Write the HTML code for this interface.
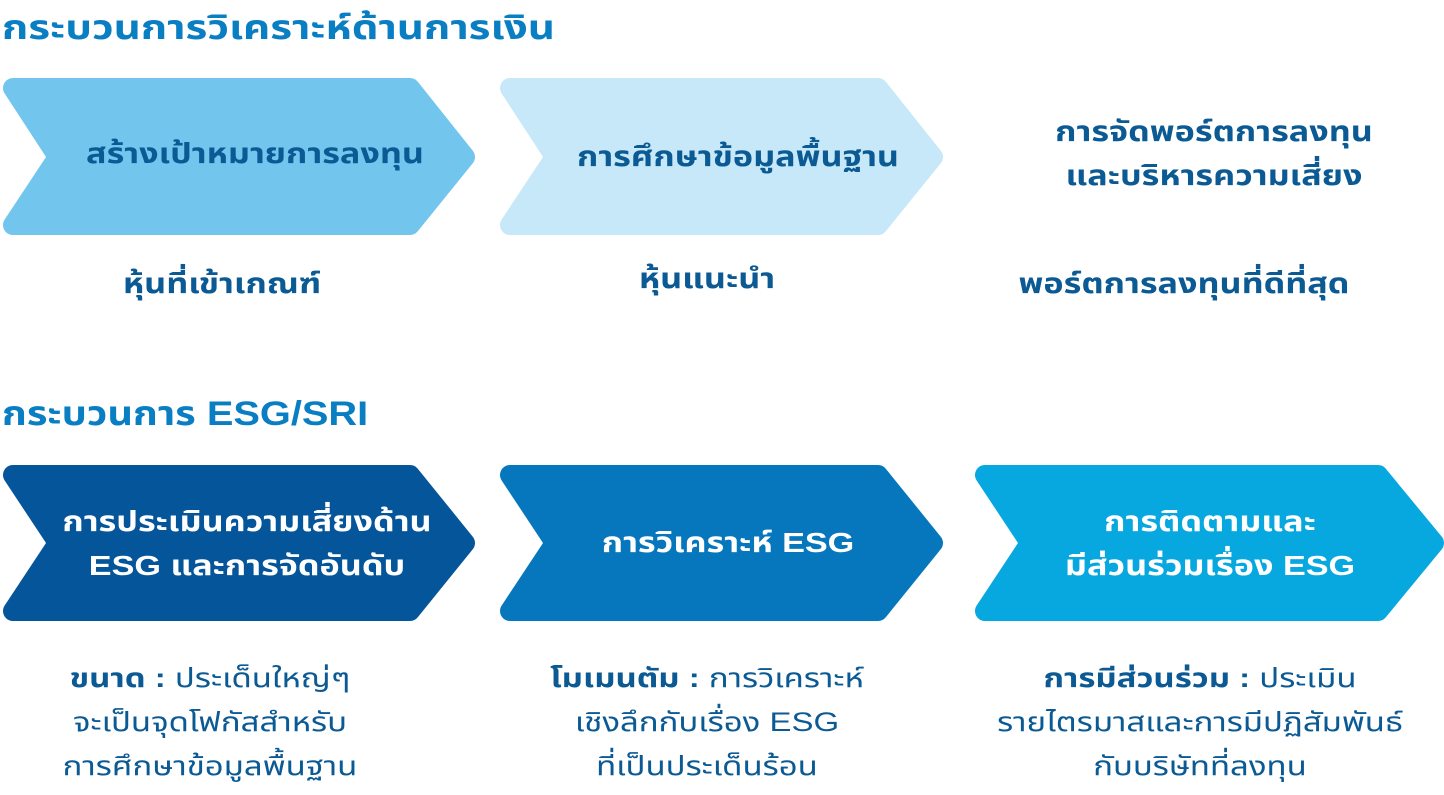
<!DOCTYPE html>
<html><head><meta charset="utf-8"><style>
html,body{margin:0;padding:0;background:#fff;}
body{width:1444px;height:795px;position:relative;overflow:hidden;font-family:"Liberation Sans","Noto Sans Thai","Loma","Garuda",sans-serif;}
.t{position:absolute;white-space:nowrap;}
.h{color:#0a7ec3;font-weight:bold;font-size:34px;transform:scaleX(1.24);transform-origin:0 0;}
.c{text-align:center;transform:translateX(-50%) scaleX(1.22);line-height:44px;}
.bx{font-weight:bold;font-size:28px;}
.sub{color:#0b5a94;font-size:27px;line-height:44px;}
</style></head><body>
<svg width="1444" height="795" style="position:absolute;left:0;top:0" stroke-linejoin="round" stroke-width="20">
<polygon points="13,88 410,88 465,157 410,225 13,225 58,157" fill="#72c6ee" stroke="#72c6ee"/>
<polygon points="510,88 878,88 933,157 878,225 510,225 555,157" fill="#c6e8f8" stroke="#c6e8f8"/>
<polygon points="13,475 410,475 465,543 410,611 13,611 58,543" fill="#04559a" stroke="#04559a"/>
<polygon points="510,475 878,475 933,543 878,611 510,611 555,543" fill="#0677bd" stroke="#0677bd"/>
<polygon points="985,475 1378,475 1434,543 1378,611 985,611 1030,543" fill="#07a7df" stroke="#07a7df"/>
</svg>
<div class="t h" style="left:2px;top:4px">กระบวนการวิเคราะห์ด้านการเงิน</div>
<div class="t h" style="left:2px;top:390px;transform:scaleX(1.17)">กระบวนการ ESG/SRI</div>

<div class="t c bx" style="left:255px;top:132px;color:#0b5a94">สร้างเป้าหมายการลงทุน</div>
<div class="t c bx" style="left:738px;top:135px;color:#0b5a94">การศึกษาข้อมูลพื้นฐาน</div>
<div class="t c bx" style="left:1214px;top:110px;color:#0b5a94">การจัดพอร์ตการลงทุน<br>และบริหารความเสี่ยง</div>

<div class="t c bx" style="left:222px;top:262px;color:#0b5a94">หุ้นที่เข้าเกณฑ์</div>
<div class="t c bx" style="left:707px;top:257px;color:#0b5a94">หุ้นแนะนำ</div>
<div class="t c bx" style="left:1184px;top:262px;color:#0b5a94">พอร์ตการลงทุนที่ดีที่สุด</div>

<div class="t c bx" style="left:247px;top:500px;color:#fff">การประเมินความเสี่ยงด้าน<br>ESG และการจัดอันดับ</div>
<div class="t c bx" style="left:728px;top:521px;color:#fff">การวิเคราะห์ ESG</div>
<div class="t c bx" style="left:1210px;top:500px;color:#fff">การติดตามและ<br>มีส่วนร่วมเรื่อง ESG</div>

<div class="t c sub" style="left:210px;top:656px"><b>ขนาด :</b> ประเด็นใหญ่ๆ<br>จะเป็นจุดโฟกัสสำหรับ<br>การศึกษาข้อมูลพื้นฐาน</div>
<div class="t c sub" style="left:707px;top:656px"><b>โมเมนตัม :</b> การวิเคราะห์<br>เชิงลึกกับเรื่อง ESG<br>ที่เป็นประเด็นร้อน</div>
<div class="t c sub" style="left:1200px;top:656px"><b>การมีส่วนร่วม :</b> ประเมิน<br>รายไตรมาสและการมีปฏิสัมพันธ์<br>กับบริษัทที่ลงทุน</div>
</body></html>
